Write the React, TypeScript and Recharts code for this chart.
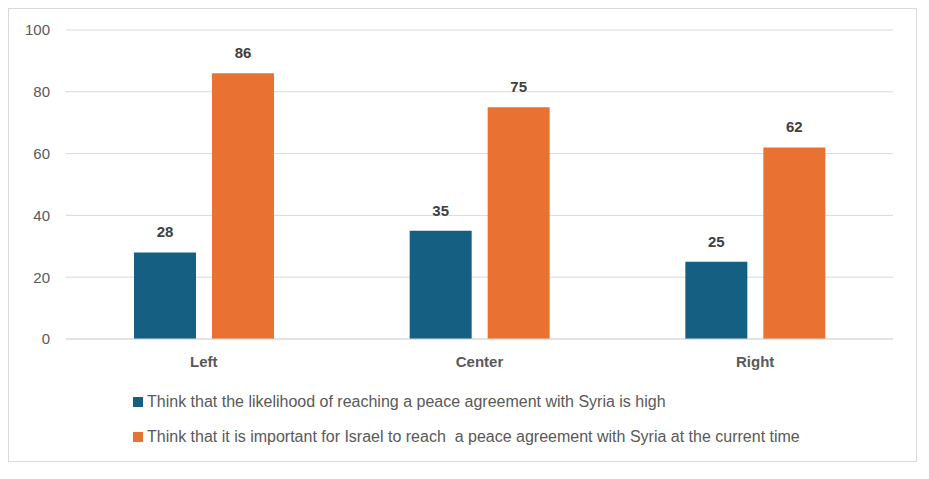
import { BarChart, Bar, XAxis, YAxis, CartesianGrid, LabelList, Legend } from 'recharts'

const categories = ['Left', 'Center', 'Right']
const likelihoodHigh = [28, 35, 25]
const importantNow = [86, 75, 62]
const yTicks = [0, 20, 40, 60, 80, 100]
const seriesNames = [
  'Think that the likelihood of reaching a peace agreement with Syria is high',
  'Think that it is important for Israel to reach  a peace agreement with Syria at the current time',
]
const seriesColors = ['#156082', '#E97132']

const chartData = categories.map((name, i) => ({
  name,
  likelihood: likelihoodHigh[i],
  important: importantNow[i],
}))

const FONT = '"Liberation Sans", Arial, sans-serif'

function LegendRows() {
  return (
    <div style={{ fontFamily: FONT, fontSize: 16, color: '#595959' }}>
      {seriesNames.map((label, i) => (
        <div key={i} style={{ display: 'flex', alignItems: 'center', height: 35, whiteSpace: 'pre' }}>
          <span style={{ width: 10, height: 10, background: seriesColors[i], marginRight: 4, flexShrink: 0 }} />
          <span>{label}</span>
        </div>
      ))}
    </div>
  )
}

export default function App() {
  return (
    <div style={{ width: 907, height: 452, border: '1px solid #d9d9d9', background: '#fff' }}>
      <BarChart
        width={907}
        height={452}
        data={chartData}
        margin={{ top: 21, right: 23, bottom: 92, left: 0 }}
        barSize={62}
        barGap={16}
      >
        <CartesianGrid vertical={false} stroke="#d9d9d9" />
        <XAxis
          dataKey="name"
          axisLine={{ stroke: '#d9d9d9' }}
          tickLine={false}
          tickSize={0}
          tickMargin={17}
          height={30}
          tick={{ fontSize: 15, fontWeight: 700, fill: '#595959', fontFamily: FONT }}
        />
        <YAxis
          domain={[0, 100]}
          ticks={yTicks}
          width={57}
          axisLine={false}
          tickLine={false}
          tickSize={0}
          tickMargin={16}
          tick={{ fontSize: 15, fill: '#595959', fontFamily: FONT }}
        />
        <Legend
          layout="horizontal"
          verticalAlign="middle"
          align="center"
          content={() => <LegendRows />}
          wrapperStyle={{ top: 375, left: 124, width: 780, height: 70 }}
        />
        <Bar dataKey="likelihood" name={seriesNames[0]} fill={seriesColors[0]} isAnimationActive={false}>
          <LabelList
            dataKey="likelihood"
            position="top"
            offset={15}
            style={{ fontSize: 15, fontWeight: 700, fill: '#404040', fontFamily: FONT }}
          />
        </Bar>
        <Bar dataKey="important" name={seriesNames[1]} fill={seriesColors[1]} isAnimationActive={false}>
          <LabelList
            dataKey="important"
            position="top"
            offset={15}
            style={{ fontSize: 15, fontWeight: 700, fill: '#404040', fontFamily: FONT }}
          />
        </Bar>
      </BarChart>
    </div>
  )
}
